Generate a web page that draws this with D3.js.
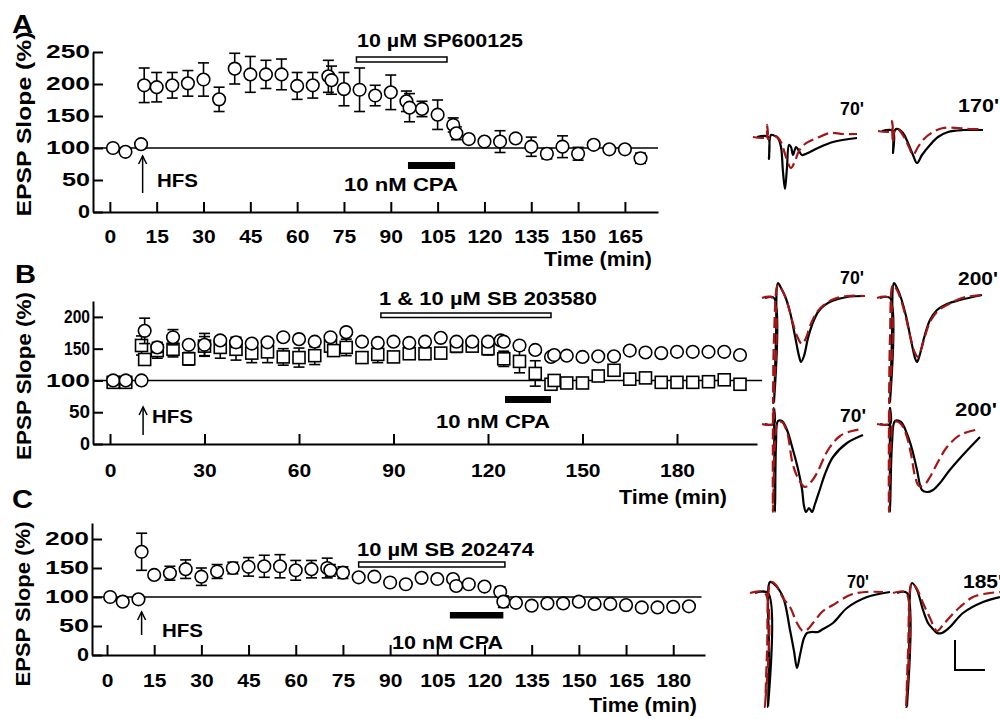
<!DOCTYPE html>
<html>
<head>
<meta charset="utf-8" />
<title>EPSP slope - CPA depotentiation</title>
<script src="https://d3js.org/d3.v7.min.js" charset="utf-8"></script>
<style>
    body {
        margin: 0;
        background: #fff;
        font-family: "Liberation Sans", Arial, Helvetica, sans-serif;
    }
    text {
        font-weight: bold;
        fill: #000;
    }
    .axis path,
    .axis line {
        stroke: #000;
        stroke-width: 2;
        fill: none;
    }
    .ref {
        stroke: #000;
        stroke-width: 1.5;
    }
    .err line {
        stroke: #000;
        stroke-width: 1.6;
    }
    .mark {
        fill: #fff;
        stroke: #000;
        stroke-width: 1.6;
    }
    .trace {
        fill: none;
        stroke-width: 2.2;
        stroke-linejoin: round;
    }
</style>
</head>
<body>
<div id="graphic"></div>
<script>
// ---- panel A : SP600125 ----
var timeA = [1, 5, 10, 11, 15, 20, 25, 30, 35, 40, 45, 50, 55, 60, 65, 70, 71, 75, 80, 85, 90, 95, 96,
    100, 105, 110, 111, 115, 120, 125, 130, 135, 140, 145, 150, 155, 160, 165, 170];
var slopeA = [100, 94, 106, 198, 195, 198, 201, 207, 176, 224, 215, 215, 215, 197, 198, 212, 206, 192, 191, 182, 187, 173, 163,
    161, 152, 136, 123, 114, 110, 110, 115, 102, 91, 102, 91, 105, 98, 98, 84];
var semA = [3, 3, 4, 27, 23, 20, 20, 26, 19, 24, 28, 22, 24, 21, 20, 25, 22, 26, 34, 16, 27, 16, 22,
    12, 23, 11, 10, 5, 4, 17, 5, 15, 8, 17, 10, 6, 5, 5, 8];

// ---- panel B : SB 203580 (circles = 1 uM, squares = 10 uM) ----
var timeBc = [1, 5, 10, 11, 15, 20, 25, 30, 35, 40, 45, 50, 55, 60, 65, 70, 75, 80, 85, 90, 95, 100, 105, 110, 115,
    120, 124, 125, 130, 135, 140, 141, 145, 150, 155, 160, 165, 170, 175, 180, 185, 190, 195, 200];
var slopeBc = [100, 100, 100, 178, 152, 168, 156, 156, 163, 160, 158, 160, 168, 165, 161, 168, 176, 161, 159, 161, 159, 161, 167, 161, 161,
    161, 163, 161, 155, 148, 137, 140, 139, 137, 138, 138, 147, 144, 143, 145, 145, 145, 145, 140];
var semBc = [2, 2, 2, 20, 8, 12, 5, 18, 5, 8, 5, 5, 3, 3, 3, 4, 3, 3, 3, 3, 3, 3, 4, 3, 3,
    3, 3, 3, 3, 3, 3, 3, 3, 3, 3, 3, 3, 3, 3, 3, 3, 3, 3, 3];
var timeBs = [1, 5, 10, 11, 15, 20, 25, 30, 35, 40, 45, 50, 55, 60, 65, 70, 71, 75, 80, 85, 90, 95, 100, 105, 110,
    115, 120, 125, 130, 135, 140, 141, 145, 150, 155, 160, 165, 170, 175, 180, 185, 190, 195, 200];
var slopeBs = [97, 97, 155, 133, 147, 149, 134, 154, 152, 149, 143, 145, 137, 136, 139, 154, 147, 152, 136, 141, 137, 142, 142, 143, 154,
    154, 150, 134, 130, 111, 94, 100, 96, 96, 107, 116, 102, 104, 97, 97, 97, 98, 101, 94];
var semBs = [2, 2, 15, 8, 12, 12, 10, 15, 17, 17, 15, 17, 13, 15, 14, 8, 8, 13, 5, 13, 5, 4, 4, 4, 10,
    5, 10, 12, 18, 20, 3, 3, 3, 3, 3, 3, 3, 3, 3, 3, 3, 3, 3, 3];

// ---- panel C : SB 202474 ----
var timeC = [1, 5, 10, 11, 15, 20, 25, 30, 35, 40, 45, 50, 55, 60, 65, 70, 71, 75, 80, 85, 90, 95, 100, 105, 110,
    111, 115, 120, 125, 126, 130, 135, 140, 145, 150, 155, 160, 165, 170, 175, 180, 185];
var slopeC = [100, 92, 96, 178, 138, 141, 148, 135, 144, 150, 152, 153, 153, 146, 148, 150, 146, 142, 134, 135, 125, 122, 133, 131, 131,
    119, 122, 118, 109, 92, 90, 85, 89, 89, 92, 88, 88, 86, 82, 82, 83, 84];
var semC = [2, 2, 2, 32, 3, 12, 16, 15, 12, 10, 16, 19, 20, 17, 15, 17, 10, 10, 3, 3, 3, 3, 3, 3, 3,
    3, 3, 3, 8, 10, 3, 3, 3, 3, 3, 3, 3, 3, 3, 3, 3, 3];

// tick labels
var ticksA = [0, 15, 30, 45, 60, 75, 90, 105, 120, 135, 150, 165];
var ticksB = [0, 30, 60, 90, 120, 150, 180];
var ticksC = [0, 15, 30, 45, 60, 75, 90, 105, 120, 135, 150, 165, 180];
var yTicksA = [0, 50, 100, 150, 200, 250];
var yTicksBC = [0, 50, 100, 150, 200];

// drug application periods (min)
var drugA = [{ name: "10 \u00b5M SP600125", from: 79, to: 108 }, { name: "10 nM CPA", from: 95.5, to: 110.6 }];
var drugB = [{ name: "1 & 10 \u00b5M SB 203580", from: 86, to: 140 }, { name: "10 nM CPA", from: 125.4, to: 140 }];
var drugC = [{ name: "10 \u00b5M SB 202474", from: 80, to: 126.5 }, { name: "10 nM CPA", from: 109, to: 126 }];

// sample traces: [time step, deflection] relative to trace start, black = before, red = after
var trA1k = [[4, 0], [15, 0], [16, 22], [18, -2], [22, -1], [25, 1], [28, 10], [30, 35], [32, 52], [34, 30], [36, 8], [38, 10], [40, 18], [43, 10], [46, 14], [49, 18], [55, 16], [65, 11], [80, 5], [104, 1]];
var trA1r = [[0, 0], [14, 0], [14, -12], [15, 2], [19, -1], [24, 0], [28, 5], [33, 20], [38, 31], [42, 24], [46, 14], [52, 7], [64, 1], [77, -4], [90, -3], [104, -3]];
var trA2k = [[4, 0], [15, 0], [15, 22], [17, -1], [20, -2], [25, 2], [30, 12], [35, 24], [39, 32], [44, 24], [52, 14], [60, 6], [70, 1], [85, -1], [105, -1]];
var trA2r = [[0, 0], [14, 0], [14, -10], [15, 12], [17, -2], [21, -1], [26, 6], [31, 16], [35, 24], [40, 16], [46, 8], [55, 1], [65, -3], [80, -3], [92, -2], [105, -2]];
var trB1k = [[3, 0], [12, 0], [12, 105], [14, 40], [16, -15], [19, -10], [23, -2], [28, 14], [33, 38], [37, 58], [39, 64], [42, 58], [46, 40], [50, 27], [56, 14], [63, 7], [70, 3], [85, -1], [103, -2]];
var trB1r = [[0, 0], [11, 0], [11, 105], [12, 40], [16, -13], [20, -8], [25, 4], [30, 22], [35, 38], [40, 46], [44, 40], [48, 28], [55, 14], [63, 6], [72, 1], [85, -2], [103, -2]];
var trB2k = [[3, 0], [13, 0], [13, 105], [15, 40], [17, -15], [20, -10], [24, 0], [29, 18], [34, 42], [38, 60], [40, 64], [43, 56], [47, 40], [53, 22], [60, 12], [70, 6], [83, 2], [105, -3]];
var trB2r = [[0, 0], [12, 0], [12, 105], [13, 40], [16, -13], [20, -8], [24, 2], [29, 20], [34, 42], [38, 55], [41, 59], [44, 52], [48, 38], [54, 22], [62, 12], [72, 6], [85, 0], [95, -2], [105, -3]];
var trB3k = [[3, 0], [12, 0], [12, -16], [13, 88], [14, 20], [16, -3], [20, -3], [25, 6], [31, 26], [36, 45], [40, 65], [42, 82], [44, 88], [47, 84], [50, 88], [53, 80], [58, 65], [63, 50], [71, 33], [85, 19], [101, 11]];
var trB3r = [[0, 0], [11, 0], [11, -16], [11, 88], [13, 20], [16, -2], [20, -2], [25, 8], [31, 41], [37, 56], [43, 63], [49, 58], [55, 49], [66, 26], [78, 12], [90, 7], [101, 5]];
var trB4k = [[3, 0], [13, 0], [13, -16], [13, 88], [15, 20], [18, -3], [24, -2], [30, 10], [35, 25], [40, 46], [45, 66], [50, 68], [56, 66], [63, 59], [72, 47], [85, 32], [103, 13]];
var trB4r = [[0, 0], [12, 0], [12, -16], [12, 88], [14, 20], [17, -2], [23, -1], [29, 10], [34, 30], [38, 52], [42, 62], [48, 60], [53, 53], [62, 36], [70, 23], [83, 11], [103, 5]];
var trC1k = [[5, 0], [18, 0], [18, 114], [19, 60], [20, -11], [24, -9], [33, 4], [40, 37], [44, 58], [47, 75], [50, 62], [54, 45], [57, 40], [62, 39], [68, 39], [73, 36], [83, 30], [97, 15], [117, 4], [140, -1]];
var trC1r = [[0, 0], [15, 0], [15, 114], [17, 60], [21, -11], [26, -8], [33, 5], [40, 14], [47, 30], [53, 38], [58, 36], [63, 30], [73, 18], [83, 12], [100, 2], [115, -1], [133, -1]];
var trC2k = [[4, 0], [14, 0], [14, 114], [16, 60], [19, -10], [24, -3], [30, 17], [35, 30], [39, 35], [44, 40], [49, 40], [57, 34], [70, 20], [90, 9], [107, 4]];
var trC2r = [[0, 0], [13, 0], [13, 114], [15, 60], [19, -10], [24, -4], [30, 10], [37, 25], [44, 38], [50, 32], [57, 24], [67, 14], [80, 4], [97, 0], [107, -1]];

var svg = d3.select("#graphic").append("svg")
    .attr("width", 1000)
    .attr("height", 719);

// small helper: bold text, optionally stretched to a fixed length
function addText(x, y, s, size, len, anchor) {
    var t = svg.append("text")
        .attr("x", x).attr("y", y)
        .attr("font-size", size)
        .text(s);
    if (anchor) t.attr("text-anchor", anchor);
    if (len) t.attr("textLength", len).attr("lengthAdjust", "spacingAndGlyphs");
    return t;
}

function drawSeries(x, y, ts, vs, es, shape) {
    var d = ts.map(function (t, i) { return { t: t, v: vs[i], e: es[i] }; });
    var eb = svg.append("g").attr("class", "err")
        .selectAll("g").data(d).enter().append("g");
    eb.append("line")
        .attr("x1", function (d) { return x(d.t); }).attr("x2", function (d) { return x(d.t); })
        .attr("y1", function (d) { return y(d.v - d.e); }).attr("y2", function (d) { return y(d.v + d.e); });
    [-1, 1].forEach(function (s) {
        eb.append("line")
            .attr("x1", function (d) { return x(d.t) - 5.5; }).attr("x2", function (d) { return x(d.t) + 5.5; })
            .attr("y1", function (d) { return y(d.v + s * d.e); }).attr("y2", function (d) { return y(d.v + s * d.e); });
    });
    var g = svg.append("g");
    if (shape == "circle") {
        g.selectAll("circle").data(d).enter().append("circle")
            .attr("class", "mark")
            .attr("cx", function (d) { return x(d.t); })
            .attr("cy", function (d) { return y(d.v); })
            .attr("r", 6.3);
    } else {
        g.selectAll("rect").data(d).enter().append("rect")
            .attr("class", "mark")
            .attr("x", function (d) { return x(d.t) - 6; })
            .attr("y", function (d) { return y(d.v) - 6; })
            .attr("width", 12).attr("height", 12);
    }
}

function drawPanel(p) {
    var x = d3.scaleLinear().domain(p.xDom).range(p.xRange);
    var y = d3.scaleLinear().domain(p.yDom).range(p.yRange);

    // axes, ticks pointing inwards
    var gx = svg.append("g").attr("class", "axis")
        .attr("transform", "translate(0," + p.yRange[0] + ")")
        .call(d3.axisBottom(x).tickValues(p.xTicks).tickSize(-10).tickSizeOuter(0).tickPadding(0));
    gx.attr("font-size", null).attr("font-family", null);
    gx.selectAll("text")
        .attr("dy", null).attr("y", p.xLabelY)
        .attr("font-size", 19)
        .attr("textLength", function (d) { return String(d).length * 11.7; })
        .attr("lengthAdjust", "spacingAndGlyphs");

    var gy = svg.append("g").attr("class", "axis")
        .attr("transform", "translate(" + p.xRange[0] + ",0)")
        .call(d3.axisLeft(y).tickValues(p.yTicks).tickSize(-10).tickSizeOuter(0).tickPadding(3));
    gy.attr("font-size", null).attr("font-family", null);
    gy.selectAll("text")
        .attr("font-size", 18)
        .attr("textLength", function (d, i) { return p.yLabelW[i]; })
        .attr("lengthAdjust", "spacingAndGlyphs");

    // 100 % reference line
    svg.append("line").attr("class", "ref")
        .attr("x1", p.xRange[0]).attr("x2", x(p.refEnd))
        .attr("y1", y(100)).attr("y2", y(100));

    // drug bars: open = kinase inhibitor, filled = CPA
    svg.append("rect")
        .attr("x", x(p.drugs[0].from)).attr("width", x(p.drugs[0].to) - x(p.drugs[0].from))
        .attr("y", p.bar1Y).attr("height", p.bar1H)
        .attr("fill", "#fff").attr("stroke", "#000").attr("stroke-width", 1.5);
    svg.append("rect")
        .attr("x", x(p.drugs[1].from)).attr("width", x(p.drugs[1].to) - x(p.drugs[1].from))
        .attr("y", p.bar2Y).attr("height", p.bar2H)
        .attr("fill", "#000");
    addText(p.lab1[0], p.lab1[1], p.drugs[0].name, 19, p.lab1[2]);
    addText(p.lab2[0], p.lab2[1], p.drugs[1].name, 19, p.lab2[2]);

    // HFS arrow
    var ax = x(p.hfs);
    svg.append("line").attr("x1", ax).attr("x2", ax).attr("y1", p.arrow[0]).attr("y2", p.arrow[1])
        .attr("stroke", "#000").attr("stroke-width", 1.5);
    svg.append("polyline")
        .attr("points", [[ax - 4, p.arrow[1] + 8], [ax, p.arrow[1]], [ax + 4, p.arrow[1] + 8]].join(" "))
        .attr("fill", "none").attr("stroke", "#000").attr("stroke-width", 1.5);
    addText(p.hfsLab[0], p.hfsLab[1], "HFS", 18, 41);

    p.series.forEach(function (s) { drawSeries(x, y, s[0], s[1], s[2], s[3]); });

    // labels
    addText(p.letter[0], p.letter[1], p.letter[2], 25, 21);
    svg.append("text")
        .attr("transform", "translate(" + p.yTitle[0] + "," + p.yTitle[1] + ") rotate(-90)")
        .attr("text-anchor", "middle")
        .attr("font-size", 21)
        .attr("textLength", p.yTitle[2]).attr("lengthAdjust", "spacingAndGlyphs")
        .text("EPSP Slope (%)");
    addText(p.timeLab[0], p.timeLab[1], "Time (min)", 20, 108, "end");
}

drawPanel({
    xDom: [-5.4, 175.6], xRange: [93, 658], yDom: [0, 250], yRange: [212, 52],
    xTicks: ticksA, yTicks: yTicksA, xLabelY: 31, yLabelW: [12, 28, 44, 44, 44, 44],
    refEnd: 175.6, drugs: drugA, bar1Y: 57, bar1H: 5, bar2Y: 162, bar2H: 7,
    lab1: [357, 47, 166], lab2: [344, 191, 114],
    hfs: 10.5, arrow: [193, 156], hfsLab: [157, 187],
    series: [[timeA, slopeA, semA, "circle"]],
    letter: [12, 33, "A"], yTitle: [31, 124, 185], timeLab: [652, 266]
});

drawPanel({
    xDom: [-5.4, 205.4], xRange: [93, 757], yDom: [0, 225], yRange: [444, 301],
    xTicks: ticksB, yTicks: yTicksBC, xLabelY: 33, yLabelW: [10, 21, 44, 26, 26],
    refEnd: 207, drugs: drugB, bar1Y: 313, bar1H: 4.5, bar2Y: 396, bar2H: 7,
    lab1: [379, 305, 218], lab2: [436, 428, 114],
    hfs: 10.5, arrow: [435, 407], hfsLab: [152, 423],
    series: [[timeBs, slopeBs, semBs, "square"], [timeBc, slopeBc, semBc, "circle"]],
    letter: [15, 283, "B"], yTitle: [31, 376, 168], timeLab: [727, 504]
});

drawPanel({
    xDom: [-4.77, 190.1], xRange: [92, 705], yDom: [0, 227.6], yRange: [655, 523],
    xTicks: ticksC, yTicks: yTicksBC, xLabelY: 32, yLabelW: [12, 30, 44, 44, 44],
    refEnd: 189, drugs: drugC, bar1Y: 562, bar1H: 5, bar2Y: 612, bar2H: 6.5,
    lab1: [357, 556, 177], lab2: [392, 649, 111],
    hfs: 11, arrow: [635, 612], hfsLab: [162, 637],
    series: [[timeC, slopeC, semC, "circle"]],
    letter: [12, 508, "C"], yTitle: [30, 604, 165], timeLab: [697, 712]
});

// ---- sample EPSP traces ----
var traceLine = d3.line().curve(d3.curveCatmullRom.alpha(0.5));

function drawTrace(ox, oy, red, black, label) {
    var tx = d3.scaleLinear().domain([0, 100]).range([ox, ox + 100]);
    var ty = d3.scaleLinear().domain([0, 100]).range([oy, oy + 100]);
    traceLine.x(function (d) { return tx(d[0]); }).y(function (d) { return ty(d[1]); });
    svg.append("path").attr("class", "trace").attr("d", traceLine(black))
        .attr("stroke", "#000");
    svg.append("path").attr("class", "trace").attr("d", traceLine(red))
        .attr("stroke", "#a31616").attr("stroke-dasharray", "11,5");
    addText(label[0], label[1], label[2], 19, label[3]);
}

drawTrace(753, 137, trA1r, trA1k, [840, 115, "70'", 24]);
drawTrace(878, 131, trA2r, trA2k, [958, 112, "170'", 41]);
drawTrace(762, 298, trB1r, trB1k, [840, 284, "70'", 24]);
drawTrace(877, 298, trB2r, trB2k, [958, 285, "200'", 40]);
drawTrace(762, 424, trB3r, trB3k, [840, 422, "70'", 26]);
drawTrace(877, 424, trB4r, trB4k, [955, 416, "200'", 42]);
drawTrace(750, 593, trC1r, trC1k, [847, 588, "70'", 22]);
drawTrace(893, 593, trC2r, trC2k, [963, 588, "185'", 40]);

// scale bar
svg.append("polyline")
    .attr("points", "955,640 955,670 985,670")
    .attr("fill", "none").attr("stroke", "#000").attr("stroke-width", 2);
</script>
</body>
</html>
